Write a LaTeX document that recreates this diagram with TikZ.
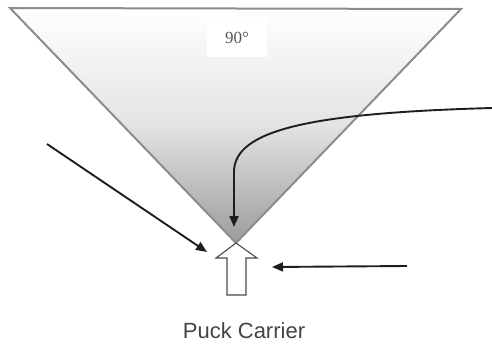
\documentclass[tikz,border=0pt]{standalone}
\usepackage{fontspec}
\setmainfont{Liberation Serif}
\newfontfamily\labelsans{Liberation Sans}
\usetikzlibrary{arrows.meta}
\definecolor{edgegray}{HTML}{8C8C8C}
\definecolor{inkdark}{HTML}{1E1E1E}
\definecolor{textgray}{HTML}{555555}
\begin{document}
\begin{tikzpicture}[x=1pt,y=-1pt,
  movearrow/.style={draw=inkdark,line width=1.9pt,-{Triangle[length=11pt,width=9pt]}},
  blockarrow/.style={draw=inkdark!80,line width=1.1pt,fill=white,line join=miter}]
\useasboundingbox (0,0) rectangle (492,345);
% coordinates
\coordinate (tl) at (10,8);
\coordinate (tr) at (461,9);
\coordinate (apex) at (236,243);
% cone
\shade[top color=white,bottom color=gray!78,middle color=gray!22] (tl) -- (tr) -- (apex) -- cycle;
\draw[edgegray,line width=2pt,line join=miter] (tl) -- (tr) -- (apex) -- cycle;
% angle label
\node[fill=white,minimum width=60pt,minimum height=38pt,inner sep=0pt,text=textgray,font=\fontsize{17}{20}\selectfont] (angle) at (237,38) {90°};
% hollow up arrow (puck carrier)
\draw[blockarrow] (apex) -- (257,258) -- (246,258) -- (246,295) -- (227,295) -- (227,258) -- (216,258) -- cycle;
% curved arrow
\coordinate (c1) at (492,108);
\coordinate (c1end) at (234,227);
\draw[movearrow] (c1) .. controls (310,113) and (234,130) .. (234,172) -- (c1end);
% left arrow
\coordinate (l1) at (47,144);
\coordinate (l1end) at (207,252);
\draw[movearrow] (l1) -- (l1end);
% right arrow
\coordinate (r1) at (407,266);
\coordinate (r1end) at (272,267);
\draw[movearrow] (r1) -- (r1end);
% label
\node[text=textgray!80!black,font=\labelsans\fontsize{22}{25}\selectfont] (label) at (244,331) {Puck Carrier};
\end{tikzpicture}
\end{document}
